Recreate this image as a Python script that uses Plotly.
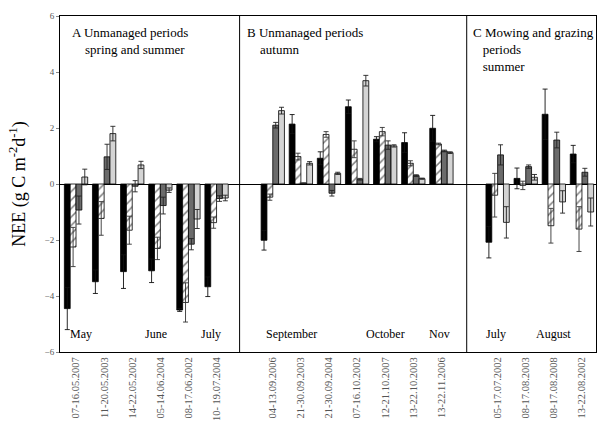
import numpy as np
import plotly.graph_objects as go

# ---- data ----
labels_A = ["07-16.05.2007", "11-20.05.2003", "14-22.05.2002", "05-14.06.2004",
            "08-17.06.2002", "10- 19.07.2004"]
labels_B = ["04-13.09.2006", "21-30.09.2003", "21-30.09.2004", "07-16.10.2002",
            "12-21.10.2007", "13-22.10.2003", "13-22.11.2006"]
labels_C = ["05-17.07.2002", "08-17.08.2003", "08-17.08.2008", "13-22.08.2002"]

# series 1 (black)
s1_A = [-4.45, -3.49, -3.13, -3.10, -4.50, -3.67]
s1_B = [-2.01, 2.14, 0.92, 2.76, 1.60, 1.48, 1.99]
s1_C = [-2.08, 0.20, 2.49, 1.07]
e1_A = [0.75, 0.42, 0.60, 0.42, 0.05, 0.35]
e1_B = [0.35, 0.34, 0.23, 0.24, 0.09, 0.35, 0.46]
e1_C = [0.56, 0.37, 0.90, 0.31]

# series 2 (hatched)
s2_A = [-2.25, -1.23, -1.65, -2.30, -4.23, -1.38]
s2_B = [-0.47, 0.98, 1.77, 1.24, 1.87, 0.74, 1.43]
s2_C = [-0.40, -0.05, -1.49, -1.61]
e2_A = [0.70, 0.60, 0.50, 0.40, 0.70, 0.20]
e2_B = [0.11, 0.12, 0.10, 0.30, 0.15, 0.09, 0.03]
e2_C = [0.78, 0.15, 0.62, 0.80]

# series 3 (dark grey)
s3_A = [-0.93, 0.97, -0.08, -0.77, -2.15, -0.52]
s3_B = [2.10, 0.03, -0.33, 0.17, 1.39, 0.30, 1.18]
s3_C = [1.04, 0.62, 1.57, 0.42]
e3_A = [0.50, 0.45, 0.20, 0.30, 0.20, 0.10]
e3_B = [0.10, 0.01, 0.10, 0.03, 0.15, 0.03, 0.03]
e3_C = [0.36, 0.06, 0.28, 0.14]

# series 4 (light grey)
s4_A = [0.25, 1.80, 0.68, -0.22, -1.25, -0.50]
s4_B = [2.62, 0.74, 0.38, 3.69, 1.36, 0.19, 1.12]
s4_C = [-1.37, 0.24, -0.64, -1.00]
e4_A = [0.28, 0.26, 0.13, 0.08, 0.34, 0.10]
e4_B = [0.12, 0.06, 0.04, 0.19, 0.04, 0.02, 0.03]
e4_C = [0.56, 0.10, 0.40, 0.50]

months = ["May", "June", "July", "September", "October", "Nov", "July", "August"]
month_pos = [0.18, 2.85, 4.8, 7.65, 11.0, 12.92, 14.95, 17.0]

y_ticks = [-6, -4, -2, 0, 2, 4, 6]

# ---- layout of groups (one blank slot between panels) ----
xA = np.arange(len(labels_A))
xB = np.arange(len(labels_B)) + len(labels_A) + 1
xC = np.arange(len(labels_C)) + len(labels_A) + len(labels_B) + 2
xs = np.concatenate([xA, xB, xC])
labels = labels_A + labels_B + labels_C

series = [
    (s1_A + s1_B + s1_C, e1_A + e1_B + e1_C, dict(color="black"), "#111111"),
    (s2_A + s2_B + s2_C, e2_A + e2_B + e2_C,
     dict(color="white", pattern=dict(shape="/", fgcolor="black", bgcolor="white",
                                      size=6, solidity=0.25)), "#333333"),
    (s3_A + s3_B + s3_C, e3_A + e3_B + e3_C, dict(color="#6b6b6b"), "#222222"),
    (s4_A + s4_B + s4_C, e4_A + e4_B + e4_C, dict(color="#d4d4d4"), "#222222"),
]

fig = go.Figure()
for vals, errs, mk, ecol in series:
    marker = dict(mk)
    marker["line"] = dict(color="black", width=0.8)
    fig.add_trace(go.Bar(
        x=xs, y=vals, marker=marker,
        error_y=dict(type="data", array=errs, visible=True, color=ecol,
                     thickness=0.9, width=2.5),
        showlegend=False,
    ))

serif = "Liberation Serif"

fig.update_layout(
    width=615, height=425,
    margin=dict(l=60, r=19, t=16, b=73),
    paper_bgcolor="white", plot_bgcolor="white",
    barmode="group", bargap=0.17, bargroupgap=0,
    font=dict(family=serif, color="black"),
    xaxis=dict(range=[-0.57, 18.5], tickmode="array", tickvals=xs, ticktext=labels,
               tickangle=-90, ticks="", showgrid=False, zeroline=False,
               showline=True, linecolor="black", linewidth=1, mirror=True,
               automargin=False,
               tickfont=dict(family=serif, size=10.5, color="#555555")),
    yaxis=dict(range=[-6, 6], tickmode="array", tickvals=y_ticks,
               ticks="outside", ticklen=3, tickcolor="#888888",
               showgrid=False, zeroline=True, zerolinecolor="black", zerolinewidth=1,
               showline=True, linecolor="black", linewidth=1, mirror=True,
               automargin=False,
               tickfont=dict(family=serif, size=9, color="#555555"),
               title=dict(text="NEE (g C m<sup>-2</sup>d<sup>-1</sup>)",
                          font=dict(family=serif, size=18), standoff=14)),
)

# panel dividers
for xv in [5.82, 13.9]:
    fig.add_shape(type="line", xref="x", yref="paper", x0=xv, x1=xv, y0=0, y1=1,
                  line=dict(color="black", width=1))

# panel titles
titles = [
    (-0.21, "A Unmanaged periods<br>    spring and summer"),
    (6.0, "B Unmanaged periods<br>    autumn"),
    (14.05, "C Mowing and grazing<br>   periods<br>   summer"),
]
for xv, txt in titles:
    fig.add_annotation(x=xv, y=5.75, xref="x", yref="y", text=txt, showarrow=False,
                       xanchor="left", yanchor="top", align="left",
                       font=dict(family=serif, size=13, color="black"))

# month labels
for m, xp in zip(months, month_pos):
    fig.add_annotation(x=xp, y=-5.36, xref="x", yref="y", text=m, showarrow=False,
                       xanchor="center", yanchor="middle",
                       font=dict(family=serif, size=12, color="black"))

fig.write_html("out.html", config={"displayModeBar": False},
               post_script="document.body.style.margin='0';document.body.style.padding='0';")
